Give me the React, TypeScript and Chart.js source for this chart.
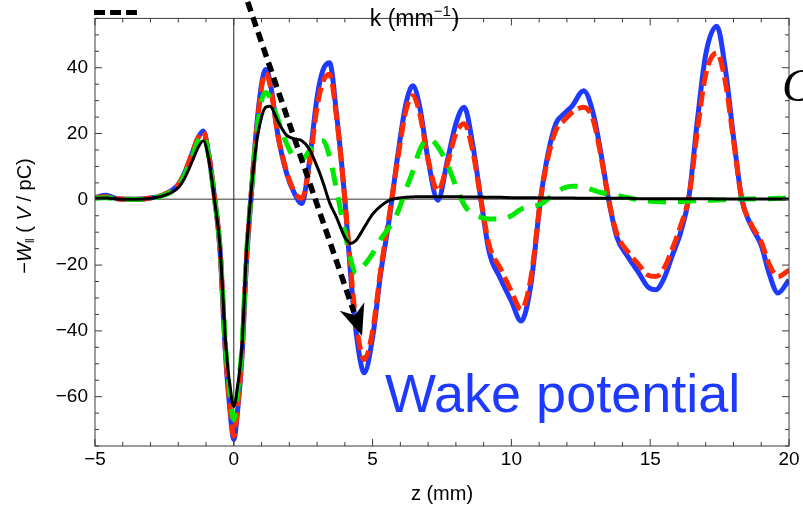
import React, { useEffect, useRef } from 'react';
import { Chart, registerables } from 'chart.js';

Chart.register(...registerables);

// ---- data (z in mm, -W|| in V/pC) ----
const zGrid = [
  -5, -4.6, -4.2, -3.5, -3, -2.5, -2, -1.8, -1.5, -1.3,
  -1.1, -0.9, -0.7, -0.5, -0.3, -0.15, 0, 0.15, 0.3, 0.45,
  0.6, 0.8, 1.0, 1.15, 1.3, 1.6, 1.9, 2.2, 2.45, 2.7,
  3.0, 3.2, 3.45, 3.7, 4.0, 4.2, 4.4, 4.7, 5.0, 5.3,
  5.6, 5.9, 6.2, 6.45, 6.7, 7.0, 7.35, 7.7, 8.0, 8.3,
  8.6, 8.9, 9.2, 9.6, 10.0, 10.35, 10.7, 11.05, 11.3, 11.6,
  11.9, 12.2, 12.6, 12.95, 13.25, 13.5, 13.8, 14.2, 14.6, 14.9,
  15.2, 15.5, 15.8, 16.1, 16.4, 16.7, 17.0, 17.4, 17.7, 18.0,
  18.3, 18.6, 19.0, 19.3, 19.6, 20.0,
];

const wakeFull = [
  0.5, 1.2, 0.2, 0, 0.4, 1.5, 4.5, 7.5, 14, 18.5,
  20.8, 13.5, 1, -15, -47, -63, -73, -63, -47, -20,
  -2, 20, 35, 39.5, 36, 19, 8, 1.5, -1.3, 10,
  31, 39, 41.5, 26, 0, -22, -40, -52.7, -42, -22,
  -6, 13, 29, 34.5, 28, 12, -0.3, 12, 23, 28,
  17, 0, -16, -24, -31, -37, -26, 0, 13, 23,
  26, 28.5, 33, 26, 12.8, 0, -11.5, -17.5, -22.5, -26.5,
  -27.5, -24, -17, -10, 1, 24, 44, 52.6, 40, 19,
  0, -7.4, -14, -23, -28.5, -24.5,
];

const wakeModel = [
  0.5, 0.8, 0.2, 0, 0.4, 1.5, 4.5, 7.5, 14, 18.5,
  20.5, 13.5, 1, -15, -46, -62, -72, -62, -46, -19,
  -1, 19, 34, 38.5, 35, 19, 8.5, 2, 0.3, 9,
  28, 35.5, 38, 25, 0, -20, -37, -48.7, -40, -21,
  -5, 12, 27, 31.5, 26, 12, 2.5, 11, 20, 23,
  15, 0, -14, -21, -28, -33.5, -24, 0, 12, 21,
  24, 26.5, 28, 24, 12, 0, -10.5, -16, -20, -23,
  -23.5, -21, -15, -8, 1, 21, 38, 44.5, 36, 18,
  0, -7, -13, -20, -23.5, -21.5,
];

const wakeGreen = [
  0.3, 0.5, 0.1, 0, 0.3, 1.3, 4, 7, 13, 17.5,
  19.5, 13, 0.5, -14, -44, -58, -67, -58, -44, -18,
  -1, 18, 30, 32.5, 31, 24, 17, 12.5, 12, 14.5,
  17.5, 17.8, 13, 3, -10, -18, -22.5, -20, -16.5, -12,
  -8.5, -4, 3, 8.5, 15, 18.5, 16, 10.5, 4, -1.7,
  -4.5, -5.5, -6, -6, -5, -3, -2.3, -1.5, 0, 2,
  3.5, 4, 3.7, 2.8, 2, 1.6, 1.2, 0.5, -0.2, -0.5,
  -0.7, -0.8, -0.8, -0.7, -0.5, -0.4, -0.3, -0.2, -0.1, 0,
  0.1, 0.1, 0.2, 0.2, 0.3, 0.3,
];

const wakeBlack = [
  0.3, 0.4, 0.1, 0, 0.3, 1.2, 3.5, 6, 11.5, 15.5,
  17.8, 12, 0, -14, -43, -56, -63, -56, -44, -17,
  0, 16, 25, 28, 28.3, 23.5, 19.5, 18.3, 17.8, 15.5,
  10, 5.5, -1, -5.5, -11.5, -13.4, -12.5, -8.5, -4.5, -2,
  -0.3, 0.3, 0.6, 0.7, 0.8, 0.8, 0.8, 0.8, 0.8, 0.7,
  0.7, 0.7, 0.6, 0.6, 0.5, 0.5, 0.5, 0.4, 0.4, 0.4,
  0.4, 0.4, 0.3, 0.3, 0.3, 0.3, 0.3, 0.3, 0.2, 0.2,
  0.2, 0.2, 0.2, 0.2, 0.2, 0.2, 0.2, 0.1, 0.1, 0.1,
  0.1, 0.1, 0.1, 0.1, 0.1, 0.1,
];

const xTicks = [-5, 0, 5, 10, 15, 20];
const yTicks = [-60, -40, -20, 0, 20, 40];
const xRange = [-5, 20];
const yRange = [-75, 55];
const xMinorStep = 1;
const yMinorStep = 5;

// annotation anchors in data coordinates
const arrowFrom = { x: 0.5, y: 60 };
const arrowTo = { x: 4.62, y: -41.5 };
const wakeLabel = { text: 'Wake potential', x: 5.45, y: -64.8 };
const kLabelX = 4.9;

const FONT = '"Liberation Sans", Arial, Helvetica, sans-serif';
const BLUE = 'rgb(30, 58, 255)';
const RED = 'rgb(255, 42, 0)';
const GREEN = 'rgb(0, 232, 0)';

const toPoints = (arr: number[]) => zGrid.map((z, i) => ({ x: z, y: arr[i] }));
const fmt = (v: number) => String(v).replace('-', '\u2212');

const overlay = {
  id: 'overlay',
  beforeDatasetsDraw(chart: any) {
    const { ctx, chartArea: a, scales } = chart;
    const x = scales.x, y = scales.y;
    ctx.save();
    const y0 = y.getPixelForValue(0);
    ctx.strokeStyle = '#7a7a7a';
    ctx.lineWidth = 1.6;
    ctx.beginPath();
    ctx.moveTo(a.left, y0);
    ctx.lineTo(a.right, y0);
    ctx.stroke();
    const x0 = x.getPixelForValue(0);
    ctx.strokeStyle = '#222';
    ctx.lineWidth = 1;
    ctx.beginPath();
    ctx.moveTo(x0, a.top);
    ctx.lineTo(x0, a.bottom);
    ctx.stroke();
    ctx.restore();
  },
  afterDraw(chart: any) {
    const { ctx, chartArea: a, scales } = chart;
    const x = scales.x, y = scales.y;
    ctx.save();

    // frame
    ctx.strokeStyle = '#3a3a3a';
    ctx.lineWidth = 1;
    ctx.strokeRect(a.left, a.top, a.right - a.left, a.bottom - a.top);

    // inward ticks on all four sides
    ctx.beginPath();
    for (let v = xRange[0]; v <= xRange[1] + 1e-9; v += xMinorStep) {
      const px = x.getPixelForValue(v);
      const len = xTicks.includes(v) ? 7 : 4;
      ctx.moveTo(px, a.bottom);
      ctx.lineTo(px, a.bottom - len);
      ctx.moveTo(px, a.top);
      ctx.lineTo(px, a.top + len);
    }
    for (let v = -75; v <= yRange[1] + 1e-9; v += yMinorStep) {
      const py = y.getPixelForValue(v);
      const len = yTicks.includes(v) ? 7 : 4;
      ctx.moveTo(a.left, py);
      ctx.lineTo(a.left + len, py);
      ctx.moveTo(a.right, py);
      ctx.lineTo(a.right - len, py);
    }
    ctx.stroke();

    // dotted arrow
    const sx = x.getPixelForValue(arrowFrom.x), sy = y.getPixelForValue(arrowFrom.y);
    const ex = x.getPixelForValue(arrowTo.x), ey = y.getPixelForValue(arrowTo.y);
    const ang = Math.atan2(ey - sy, ex - sx);
    const headLen = 31, headW = 13;
    const bx = ex - Math.cos(ang) * (headLen - 6), by = ey - Math.sin(ang) * (headLen - 6);
    ctx.strokeStyle = '#000';
    ctx.lineWidth = 5.5;
    ctx.setLineDash([10, 6]);
    ctx.beginPath();
    ctx.moveTo(sx, sy);
    ctx.lineTo(bx, by);
    ctx.stroke();
    ctx.setLineDash([]);
    const cx = ex - Math.cos(ang) * headLen, cy = ey - Math.sin(ang) * headLen;
    const nx = -Math.sin(ang), ny = Math.cos(ang);
    const notchX = ex - Math.cos(ang) * (headLen * 0.7), notchY = ey - Math.sin(ang) * (headLen * 0.7);
    ctx.fillStyle = '#000';
    ctx.beginPath();
    ctx.moveTo(ex, ey);
    ctx.lineTo(cx + nx * headW, cy + ny * headW);
    ctx.lineTo(notchX, notchY);
    ctx.lineTo(cx - nx * headW, cy - ny * headW);
    ctx.closePath();
    ctx.fill();

    // fragment of a dashed legend line (top-left)
    ctx.lineWidth = 5;
    ctx.setLineDash([11, 5]);
    ctx.beginPath();
    ctx.moveTo(a.left - 1, a.top - 6);
    ctx.lineTo(x.getPixelForValue(-3.35), a.top - 6);
    ctx.stroke();
    ctx.setLineDash([]);

    // "k (mm^-1)" label
    ctx.fillStyle = '#000';
    ctx.textBaseline = 'alphabetic';
    ctx.textAlign = 'left';
    let kx = x.getPixelForValue(kLabelX);
    const ky = a.top + 8;
    ctx.font = `23px ${FONT}`;
    ctx.fillText('k (mm', kx, ky);
    kx += ctx.measureText('k (mm').width;
    ctx.font = `15px ${FONT}`;
    ctx.fillText('\u22121', kx, ky - 10);
    kx += ctx.measureText('\u22121').width + 1;
    ctx.font = `23px ${FONT}`;
    ctx.fillText(')', kx, ky);

    // cut-off italic C on the right
    ctx.font = 'italic 46px "Liberation Serif", "Times New Roman", serif';
    ctx.fillText('C', a.right - 7, y.getPixelForValue(29.8));

    // Wake potential label
    ctx.fillStyle = BLUE;
    ctx.font = `54px ${FONT}`;
    ctx.fillText(wakeLabel.text, x.getPixelForValue(wakeLabel.x), y.getPixelForValue(wakeLabel.y));

    // x axis title
    ctx.fillStyle = '#000';
    ctx.font = `20px ${FONT}`;
    ctx.textAlign = 'center';
    ctx.textBaseline = 'middle';
    ctx.fillText('z (mm)', (a.left + a.right) / 2, a.bottom + 48);

    // y axis title (rotated, rich text)
    ctx.save();
    ctx.translate(a.left - 70, 216);
    ctx.rotate(-Math.PI / 2);
    ctx.textAlign = 'left';
    ctx.textBaseline = 'middle';
    const parts = [
      { t: '\u2212', f: `20px ${FONT}`, dy: 0 },
      { t: 'W', f: `italic 20px ${FONT}`, dy: 0 },
      { t: '\u2016', f: `12px ${FONT}`, dy: 6 },
      { t: ' ( ', f: `20px ${FONT}`, dy: 0 },
      { t: 'V', f: `italic 20px ${FONT}`, dy: 0 },
      { t: ' / pC)', f: `20px ${FONT}`, dy: 0 },
    ];
    let total = 0;
    for (const p of parts) { ctx.font = p.f; total += ctx.measureText(p.t).width; }
    let cur = -total / 2;
    for (const p of parts) {
      ctx.font = p.f;
      ctx.fillText(p.t, cur, p.dy);
      cur += ctx.measureText(p.t).width;
    }
    ctx.restore();

    ctx.restore();
  },
};

export default function App() {
  const ref = useRef<HTMLCanvasElement | null>(null);
  useEffect(() => {
    if (!ref.current) return;
    const common = { pointRadius: 0, fill: false, cubicInterpolationMode: 'monotone' as const };
    const chart = new Chart(ref.current, {
      type: 'line',
      data: {
        datasets: [
          { ...common, label: 'black', data: toPoints(wakeBlack), borderColor: '#000', borderWidth: 3 },
          { ...common, label: 'green', data: toPoints(wakeGreen), borderColor: GREEN, borderWidth: 5, borderDash: [18, 12] },
          { ...common, label: 'red', data: toPoints(wakeModel), borderColor: RED, borderWidth: 5, borderDash: [15, 6] },
          { ...common, label: 'blue', data: toPoints(wakeFull), borderColor: BLUE, borderWidth: 5 },
        ],
      },
      options: {
        animation: false,
        responsive: false,
        parsing: false as any,
        layout: { padding: { left: 8, top: 15, right: 14, bottom: 0 } },
        plugins: { legend: { display: false }, tooltip: { enabled: false } },
        scales: {
          x: {
            type: 'linear',
            min: xRange[0],
            max: xRange[1],
            grid: { display: false, drawTicks: false },
            border: { display: false },
            afterBuildTicks: (s: any) => { s.ticks = xTicks.map((v) => ({ value: v })); },
            afterFit: (s: any) => { s.height = 61; },
            ticks: { color: '#000', padding: 2, maxRotation: 0, font: { family: FONT, size: 19 }, callback: (v: any) => fmt(v) },
          },
          y: {
            type: 'linear',
            min: yRange[0],
            max: yRange[1],
            grid: { display: false, drawTicks: false },
            border: { display: false },
            afterBuildTicks: (s: any) => { s.ticks = yTicks.map((v) => ({ value: v })); },
            afterFit: (s: any) => { s.width = 87; },
            ticks: { color: '#000', padding: 7, font: { family: FONT, size: 19 }, callback: (v: any) => fmt(v) },
          },
        },
      },
      plugins: [overlay],
    });
    return () => chart.destroy();
  }, []);
  return (
    <div style={{ position: 'fixed', left: 0, top: 0, width: 803, height: 507, background: '#fff' }}>
      <canvas ref={ref} width={803} height={507} style={{ display: 'block' }} />
    </div>
  );
}
